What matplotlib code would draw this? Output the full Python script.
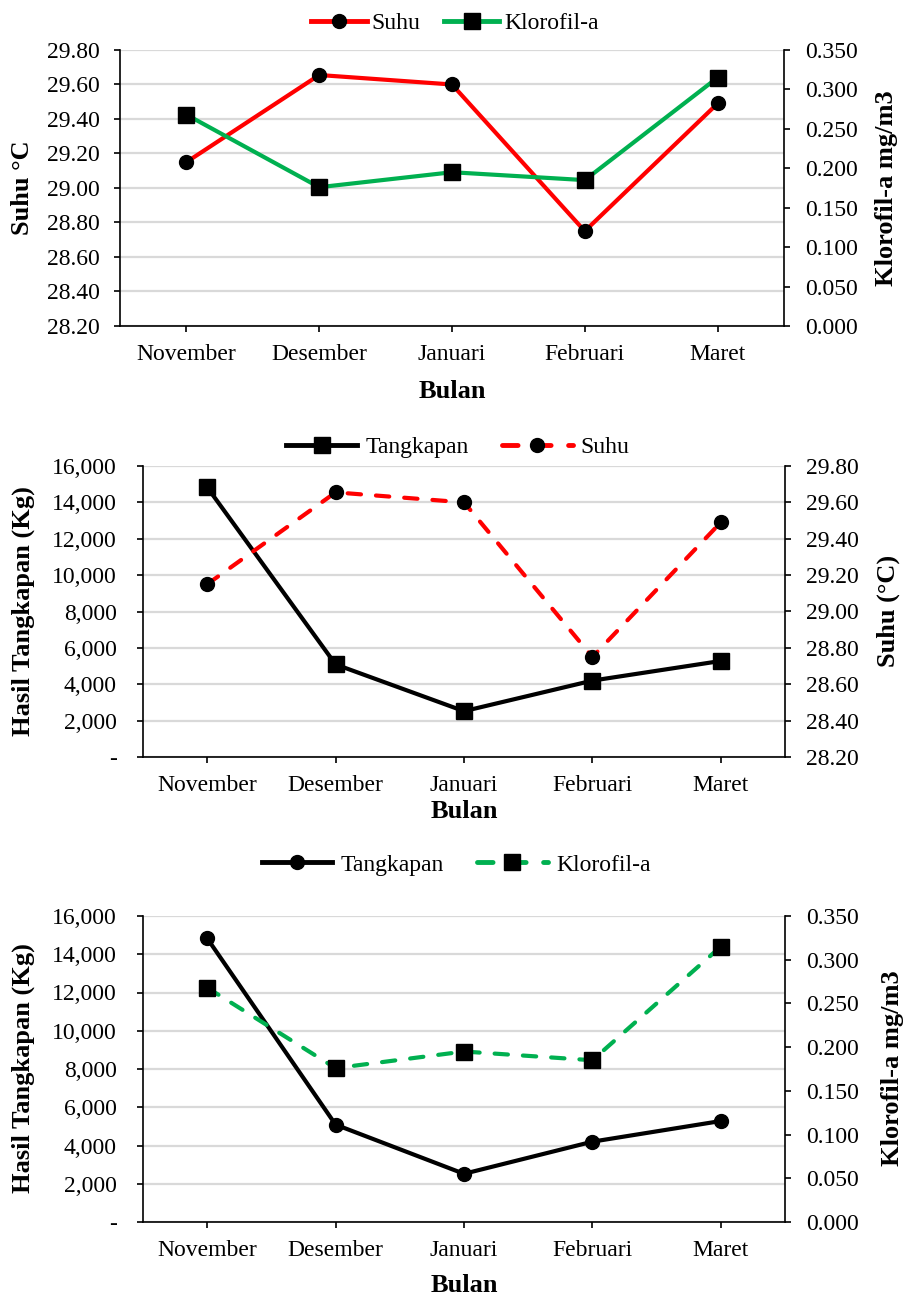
import matplotlib
matplotlib.use("Agg")
import matplotlib.pyplot as plt
from matplotlib.ticker import FuncFormatter, MultipleLocator
from matplotlib.lines import Line2D

plt.rcParams['font.family'] = ['Liberation Serif', 'DejaVu Serif']

# ---------------- data ----------------
bulan = ["November", "Desember", "Januari", "Februari", "Maret"]
suhu = [29.15, 29.655, 29.60, 28.75, 29.49]
klorofil = [0.268, 0.176, 0.195, 0.185, 0.315]
tangkapan = [14830, 5090, 2520, 4200, 5280]

RED = "#FF0000"
GREEN = "#00B050"
BLACK = "#000000"
GRID = "#D9D9D9"
TICK_FS = 17
LAB_FS = 19

W, H = 908, 1300
fig = plt.figure(figsize=(W / 100, H / 100), dpi=100)


def px_axes(l, t, r, b):
    return fig.add_axes([l / W, 1 - b / H, (r - l) / W, (b - t) / H])


def style(ax, ax2, lpad, rpad):
    x = list(range(len(bulan)))
    ax.set_xlim(-0.5, len(bulan) - 0.5)
    ax.set_xticks(x)
    ax.set_xticklabels(bulan)
    ax.grid(axis='y', color=GRID, lw=1.6, zorder=0)
    ax.set_axisbelow(True)
    for a in (ax, ax2):
        a.spines['top'].set_visible(False)
        for s in ('left', 'right', 'bottom'):
            a.spines[s].set_linewidth(1.2)
            a.spines[s].set_color(BLACK)
    ax.spines['right'].set_visible(False)
    ax2.spines['left'].set_visible(False)
    ax2.spines['bottom'].set_visible(False)
    ax.tick_params(axis='y', labelsize=TICK_FS, length=4.5, width=1.2, pad=lpad, direction='out')
    ax.tick_params(axis='x', labelsize=TICK_FS, length=4, width=1.2, pad=9, direction='out')
    ax2.tick_params(axis='y', labelsize=TICK_FS, length=4, width=1.2, pad=rpad, direction='out')


def thousands(v, pos):
    if abs(v) < 1e-9:
        return "-"
    return "{:,.0f}".format(v)


line_kw = dict(lw=3, solid_capstyle='round', dash_capstyle='round')
dash = (3.2, 3.6)
x = list(range(len(bulan)))

# ---------------- Panel 1 ----------------
ax1 = px_axes(120, 50, 784, 326)
ax1b = ax1.twinx()
ax1.plot(x, suhu, color=RED, marker='o', ms=10, mfc=BLACK, mec=BLACK, zorder=3, **line_kw)
ax1b.plot(x, klorofil, color=GREEN, marker='s', ms=11, mfc=BLACK, mec=BLACK, zorder=3, **line_kw)
ax1.set_ylim(28.2, 29.8)
ax1.yaxis.set_major_locator(MultipleLocator(0.2))
ax1.yaxis.set_major_formatter(FuncFormatter(lambda v, p: "{:.2f}".format(v)))
ax1b.set_ylim(0, 0.35)
ax1b.yaxis.set_major_locator(MultipleLocator(0.05))
ax1b.yaxis.set_major_formatter(FuncFormatter(lambda v, p: "{:.3f}".format(v)))
style(ax1, ax1b, 10, 11)
fig.text(23 / W, 1 - 188 / H, "Suhu °C", rotation=90, ha='center', va='center',
         fontsize=LAB_FS, fontweight='bold')
fig.text(887 / W, 1 - 188 / H, "Klorofil-a mg/m3", rotation=90, ha='center', va='center',
         fontsize=LAB_FS, fontweight='bold')
fig.text(452 / W, 1 - 391 / H, "Bulan", ha='center', va='center', fontsize=LAB_FS, fontweight='bold')
h1 = [Line2D([], [], color=RED, marker='o', ms=10, mfc=BLACK, mec=BLACK, lw=3.5),
      Line2D([], [], color=GREEN, marker='s', ms=11, mfc=BLACK, mec=BLACK, lw=3.5)]
fig.legend(h1, ["Suhu", "Klorofil-a"], loc='center', bbox_to_anchor=(455 / W, 1 - 23 / H),
           ncol=2, frameon=False, fontsize=TICK_FS, handlelength=2.35, handletextpad=0.2,
           columnspacing=1.0, numpoints=1)

# ---------------- Panel 2 ----------------
ax2 = px_axes(143, 466, 785, 757)
ax2b = ax2.twinx()
ax2.plot(x, tangkapan, color=BLACK, marker='s', ms=11, mfc=BLACK, mec=BLACK, zorder=3, **line_kw)
ax2b.plot(x, suhu, color=RED, marker='o', ms=10, mfc=BLACK, mec=BLACK, zorder=3,
          linestyle=(0, dash), **line_kw)
ax2.set_ylim(0, 16000)
ax2.yaxis.set_major_locator(MultipleLocator(2000))
ax2.yaxis.set_major_formatter(FuncFormatter(thousands))
ax2b.set_ylim(28.2, 29.8)
ax2b.yaxis.set_major_locator(MultipleLocator(0.2))
ax2b.yaxis.set_major_formatter(FuncFormatter(lambda v, p: "{:.2f}".format(v)))
style(ax2, ax2b, 14.5, 11)
fig.text(23 / W, 1 - 611 / H, "Hasil Tangkapan (Kg)", rotation=90, ha='center', va='center',
         fontsize=LAB_FS, fontweight='bold')
fig.text(888 / W, 1 - 611 / H, "Suhu (°C)", rotation=90, ha='center', va='center',
         fontsize=LAB_FS, fontweight='bold')
fig.text(464 / W, 1 - 811 / H, "Bulan", ha='center', va='center', fontsize=LAB_FS, fontweight='bold')
h2 = [Line2D([], [], color=BLACK, marker='s', ms=11, mfc=BLACK, mec=BLACK, lw=3.5),
      Line2D([], [], color=RED, marker='o', ms=10, mfc=BLACK, mec=BLACK, lw=3.5,
             linestyle=(0, dash), dash_capstyle='round')]
fig.legend(h2, ["Tangkapan", "Suhu"], loc='center', bbox_to_anchor=(458 / W, 1 - 447 / H),
           ncol=2, frameon=False, fontsize=TICK_FS, handlelength=3.0, handletextpad=0.35,
           columnspacing=1.4, numpoints=1)

# ---------------- Panel 3 ----------------
ax3 = px_axes(143, 916, 785, 1222)
ax3b = ax3.twinx()
ax3.plot(x, tangkapan, color=BLACK, marker='o', ms=10, mfc=BLACK, mec=BLACK, zorder=3, **line_kw)
ax3b.plot(x, klorofil, color=GREEN, marker='s', ms=11, mfc=BLACK, mec=BLACK, zorder=3,
          linestyle=(0, dash), **line_kw)
ax3.set_ylim(0, 16000)
ax3.yaxis.set_major_locator(MultipleLocator(2000))
ax3.yaxis.set_major_formatter(FuncFormatter(thousands))
ax3b.set_ylim(0, 0.35)
ax3b.yaxis.set_major_locator(MultipleLocator(0.05))
ax3b.yaxis.set_major_formatter(FuncFormatter(lambda v, p: "{:.3f}".format(v)))
style(ax3, ax3b, 14.5, 11)
fig.text(23 / W, 1 - 1068 / H, "Hasil Tangkapan (Kg)", rotation=90, ha='center', va='center',
         fontsize=LAB_FS, fontweight='bold')
fig.text(892 / W, 1 - 1068 / H, "Klorofil-a mg/m3", rotation=90, ha='center', va='center',
         fontsize=LAB_FS, fontweight='bold')
fig.text(464 / W, 1 - 1286 / H, "Bulan", ha='center', va='center', fontsize=LAB_FS, fontweight='bold')
h3 = [Line2D([], [], color=BLACK, marker='o', ms=10, mfc=BLACK, mec=BLACK, lw=3.5),
      Line2D([], [], color=GREEN, marker='s', ms=11, mfc=BLACK, mec=BLACK, lw=3.5,
             linestyle=(0, dash), dash_capstyle='round')]
fig.legend(h3, ["Tangkapan", "Klorofil-a"], loc='center', bbox_to_anchor=(456 / W, 1 - 865 / H),
           ncol=2, frameon=False, fontsize=TICK_FS, handlelength=3.0, handletextpad=0.35,
           columnspacing=1.4, numpoints=1)

fig.savefig("out.png", dpi=100, facecolor='white')
